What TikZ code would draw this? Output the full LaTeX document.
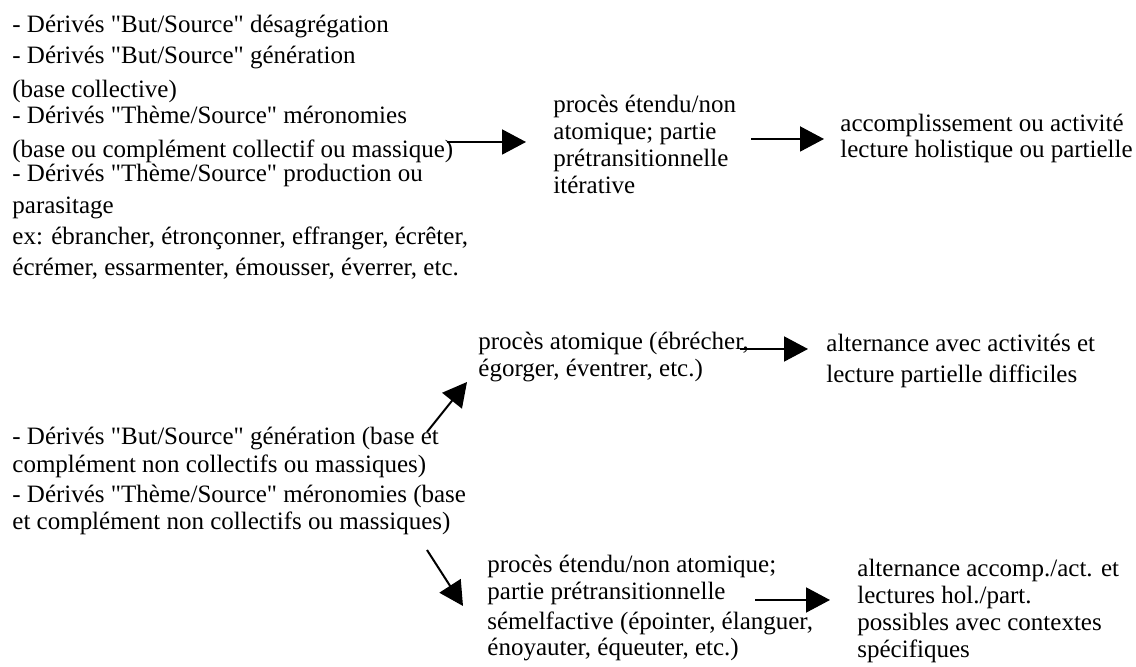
\documentclass[tikz,border=0pt]{standalone}
\usepackage{fontspec}
\setmainfont{Liberation Serif}
\usetikzlibrary{arrows.meta}

\newcommand{\gq}{\textquotedbl}

\begin{document}
\begin{tikzpicture}[x=0.5pt, y=-0.5pt,
		every node/.style={font=\fontsize{12.5}{13.5}\selectfont, inner sep=0pt, anchor=base west, align=left},
		fleche/.style={-{Triangle[length=12pt,width=12.5pt]}, line width=1pt}]
		
		\useasboundingbox (0,0) rectangle (1136,667);
		
		% Upper branch: collective bases (nodes placed by the baseline of their last line)
		\node (derColl) at (12,276) {- Dérivés \gq But/Source\gq{} désagrégation\\[2pt]
			- Dérivés \gq But/Source\gq{} génération\\[3.5pt]
			(base collective)\\[-0.5pt]
			- Dérivés \gq Thème/Source\gq{} méronomies\\[3.5pt]
			(base ou complément collectif ou massique)\\[-1.5pt]
			- Dérivés \gq Thème/Source\gq{} production ou\\[2.5pt]
			parasitage\\[2pt]
			ex: ébrancher, étronçonner, effranger, écrêter,\\[2pt]
			écrémer, essarmenter, émousser, éverrer, etc.};
		\node (procIter) at (553,194) {procès étendu/non\\
			atomique; partie\\
			prétransitionnelle\\
			itérative};
		\node (accAct) at (840,158) {accomplissement ou activité\\[-0.5pt]
			lecture holistique ou partielle};
		
		% Lower branch: non collective bases
		\node (derNonColl) at (12,530) {- Dérivés \gq But/Source\gq{} génération (base et\\[0.5pt]
			complément non collectifs ou massiques)\\[1.5pt]
			- Dérivés \gq Thème/Source\gq{} méronomies (base\\
			et complément non collectifs ou massiques)};
		\node (procAtom) at (478,377) {procès atomique (ébrécher,\\
			égorger, éventrer, etc.)};
		\node (altAct) at (826,383) {alternance avec activités et\\[2pt]
			lecture partielle difficiles};
		\node (procSemel) at (487,656) {procès étendu/non atomique;\\
			partie prétransitionnelle\\[1.5pt]
			sémelfactive (épointer, élanguer,\\[-0.5pt]
			énoyauter, équeuter, etc.)};
		\node (altAcc) at (857,658) {alternance accomp./act. et\\
			lectures hol./part.\\
			possibles avec contextes\\
			spécifiques};
		
		% Arrow ends
		\coordinate (a1s) at (447,142);
		\coordinate (a1e) at (526,142);
		\coordinate (a2s) at (751,139);
		\coordinate (a2e) at (824,139);
		\coordinate (a3s) at (740,349);
		\coordinate (a3e) at (808,349);
		\coordinate (upS) at (427,432);
		\coordinate (upE) at (467,382);
		\coordinate (dnS) at (427,550);
		\coordinate (dnE) at (463,606);
		\coordinate (a4s) at (755,600);
		\coordinate (a4e) at (830,600);
		
		% Arrows
		\draw[fleche] (a1s) -- (a1e);
		\draw[fleche] (a2s) -- (a2e);
		\draw[fleche] (upS) -- (upE);
		\draw[fleche] (a3s) -- (a3e);
		\draw[fleche] (dnS) -- (dnE);
		\draw[fleche] (a4s) -- (a4e);
		
	\end{tikzpicture}
\end{document}
